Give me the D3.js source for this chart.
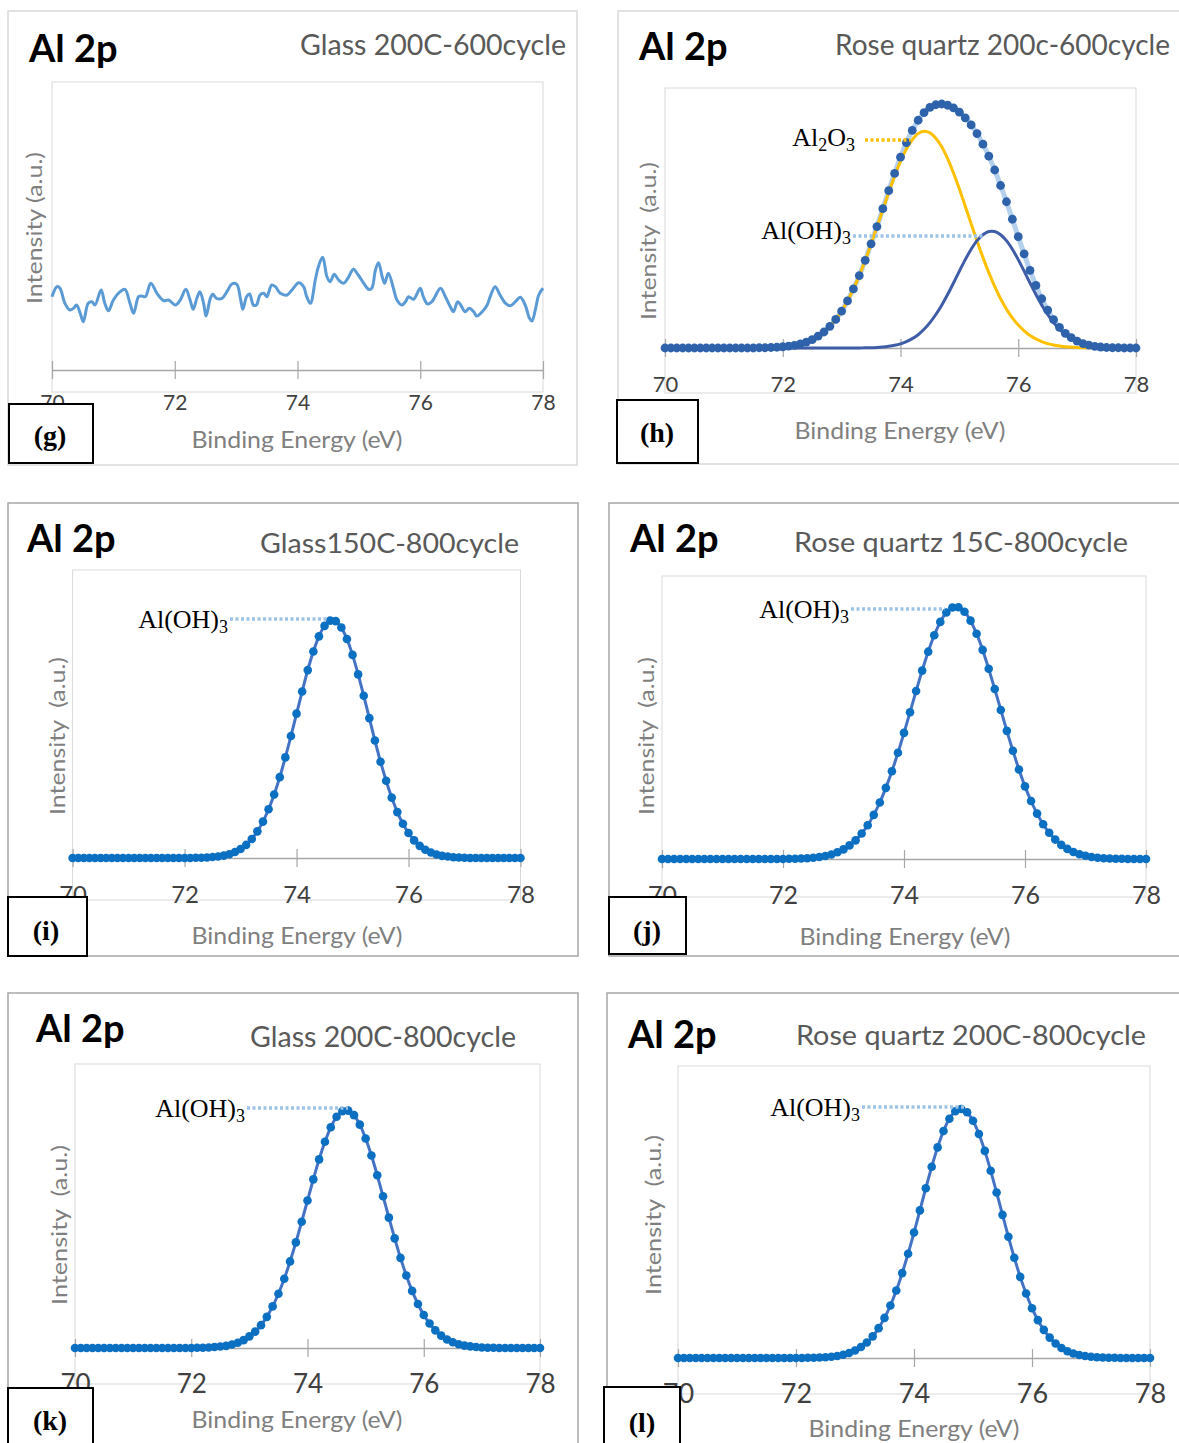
<!DOCTYPE html>
<html>
<head>
<meta charset="utf-8">
<script src="https://cdn.jsdelivr.net/npm/d3@7"></script>
<style>
body { margin: 0; background: #fff; }
svg text { font-family: Lato, "Open Sans", sans-serif; }
svg text.serif { font-family: "Liberation Serif", "Times New Roman", serif; }
</style>
</head>
<body>
<svg id="fig" width="1179" height="1443"></svg>
<script>
// ---- data (binding energy in eV, intensity in a.u.) ----
var tickValues = [70, 72, 74, 76, 78];

var energyGrid = [
	70.0,70.1,70.2,70.3,70.4,70.5,70.6,70.7,70.8,70.9,
	71.0,71.1,71.2,71.3,71.4,71.5,71.6,71.7,71.8,71.9,
	72.0,72.1,72.2,72.3,72.4,72.5,72.6,72.7,72.8,72.9,
	73.0,73.1,73.2,73.3,73.4,73.5,73.6,73.7,73.8,73.9,
	74.0,74.1,74.2,74.3,74.4,74.5,74.6,74.7,74.8,74.9,
	75.0,75.1,75.2,75.3,75.4,75.5,75.6,75.7,75.8,75.9,
	76.0,76.1,76.2,76.3,76.4,76.5,76.6,76.7,76.8,76.9,
	77.0,77.1,77.2,77.3,77.4,77.5,77.6,77.7,77.8,77.9,
	78.0
];

// (g) glass 200C-600cycle : noisy spectrum, no peak
var gEnergy = [
	70.00,70.08,70.13,70.21,70.29,70.35,70.40,70.46,70.51,70.59,
	70.65,70.70,70.80,70.86,70.92,71.00,71.11,71.19,71.27,71.33,
	71.41,71.46,71.52,71.61,71.71,71.82,71.90,72.01,72.09,72.18,
	72.25,72.30,72.36,72.41,72.47,72.51,72.58,72.62,72.68,72.77,
	72.85,72.93,73.01,73.07,73.11,73.17,73.22,73.28,73.33,73.39,
	73.45,73.50,73.58,73.64,73.72,73.83,73.91,74.02,74.10,74.15,
	74.21,74.29,74.34,74.41,74.48,74.53,74.60,74.67,74.75,74.83,
	74.91,74.99,75.08,75.16,75.21,75.27,75.32,75.38,75.42,75.48,
	75.57,75.62,75.70,75.76,75.81,75.89,76.00,76.05,76.12,76.19,
	76.24,76.33,76.41,76.49,76.54,76.61,76.66,76.73,76.80,76.87,
	76.92,77.01,77.09,77.14,77.22,77.30,77.39,77.47,77.55,77.63,
	77.71,77.78,77.82,77.88,77.93,78.00
];
var gIntensity = [
	73.3,83.3,81.7,66.7,60.0,61.7,65.0,56.7,48.3,66.7,
	68.3,65.0,80.0,66.7,59.3,70.0,78.3,80.7,66.7,56.7,
	73.3,74.0,73.3,86.7,76.7,69.3,70.0,65.0,70.0,80.7,
	70.0,60.7,71.7,78.3,66.7,54.0,71.7,75.7,71.7,71.7,
	78.3,86.0,85.7,71.7,60.7,73.3,76.0,65.0,65.0,75.0,
	76.7,73.3,85.0,83.3,76.7,75.0,80.0,87.3,83.3,73.3,
	66.7,90.0,103.3,112.7,93.3,88.3,95.7,90.0,86.7,92.7,
	100.7,95.0,86.7,80.7,81.7,100.0,107.3,93.3,86.7,96.7,
	80.0,70.0,65.0,68.3,73.3,70.7,81.7,73.3,66.0,68.3,
	73.3,81.7,73.3,63.3,58.3,68.3,65.0,58.3,61.7,58.3,
	54.0,58.3,65.0,73.3,83.3,75.0,66.7,64.3,68.3,72.7,
	65.0,51.7,49.0,61.7,75.0,81.7
];

// (h) rose quartz 200c-600cycle : measured envelope + two fitted components
var hEnvelope = [
	0,0,0,0,0,0,0,0,0,0,
	0,0,0,0,0,0,0.1,0.1,0.2,0.3,
	0.5,0.8,1.1,1.7,2.4,3.4,4.8,6.5,8.8,11.6,
	15.0,19.1,24.0,29.4,35.6,42.3,49.3,56.6,63.9,70.9,
	77.5,83.4,88.4,92.5,95.6,97.7,98.8,99.1,98.6,97.5,
	95.8,93.5,90.6,87.1,82.8,77.9,72.3,66.0,59.4,52.3,
	45.2,38.2,31.5,25.4,20.0,15.4,11.5,8.4,5.9,4.2,
	2.8,1.8,1.2,0.7,0.4,0.2,0.1,0.1,0,0,
	0
];
var hAl2O3 = [
	0,0,0,0,0,0,0,0,0,0,
	0,0,0,0,0,0,0.1,0.1,0.2,0.3,
	0.5,0.8,1.1,1.7,2.4,3.4,4.8,6.5,8.8,11.6,
	15.0,19.1,24.0,29.4,35.5,42.2,49.1,56.2,63.2,69.8,
	75.8,80.8,84.6,87.1,88.0,87.4,85.2,81.7,76.9,71.1,
	64.6,57.6,50.5,43.5,36.8,30.6,25.0,20.0,15.8,12.2,
	9.3,7.0,5.1,3.7,2.6,1.8,1.2,0.8,0.5,0.4,
	0.2,0.1,0.1,0,0,0,0,0,0,0,
	0
];
var hAlOH3 = [
	0,0,0,0,0,0,0,0,0,0,
	0,0,0,0,0,0,0,0,0,0,
	0,0,0,0,0,0,0,0,0,0,
	0,0,0,0,0.1,0.1,0.2,0.4,0.7,1.1,
	1.7,2.6,3.8,5.4,7.6,10.3,13.6,17.4,21.7,26.4,
	31.2,35.9,40.1,43.6,46.0,47.3,47.3,46.0,43.6,40.1,
	35.9,31.2,26.4,21.7,17.4,13.6,10.3,7.6,5.4,3.8,
	2.6,1.7,1.1,0.7,0.4,0.2,0.1,0.1,0,0,
	0
];

// (i) glass 150C-800cycle
var iIntensity = [
	0,0,0,0,0,0,0,0,0,0,
	0,0,0,0,0,0,0,0,0,0,
	0,0,0.1,0.1,0.2,0.4,0.6,1.0,1.6,2.5,
	3.8,5.5,8.0,11.2,15.3,20.5,26.7,34.0,42.3,51.3,
	60.7,70.0,79.0,86.8,93.2,97.6,99.8,99.6,96.9,92.1,
	85.4,77.2,68.2,58.8,49.4,40.5,32.5,25.4,19.3,14.4,
	10.5,7.4,5.1,3.5,2.3,1.5,0.9,0.6,0.3,0.2,
	0.1,0,0,0,0,0,0,0,0,0,
	0
];
// (j) rose quartz 15C-800cycle
var jIntensity = [
	0,0,0,0,0,0,0,0,0,0,
	0,0,0,0,0,0,0,0,0,0,
	0,0.1,0.1,0.2,0.3,0.5,0.8,1.2,1.8,2.7,
	3.8,5.4,7.4,10.1,13.4,17.5,22.4,28.2,34.8,42.1,
	50.0,58.2,66.6,74.7,82.2,88.7,94.0,97.7,99.7,99.8,
	98.0,94.5,89.3,82.9,75.4,67.4,59.1,50.8,42.9,35.5,
	28.8,23.0,18.0,13.8,10.4,7.7,5.6,4.0,2.8,1.9,
	1.3,0.8,0.5,0.3,0.2,0.1,0.1,0,0,0,
	0
];
// (k) glass 200C-800cycle
var kIntensity = [
	0,0,0,0,0,0,0,0,0,0,
	0,0,0,0,0,0,0,0,0,0,
	0,0.1,0.1,0.2,0.4,0.6,0.9,1.5,2.2,3.3,
	4.9,6.9,9.6,13.1,17.5,22.8,29.1,36.4,44.4,53.1,
	62.0,70.9,79.3,86.7,92.8,97.2,99.6,99.8,97.9,93.9,
	88.1,80.9,72.6,63.8,54.8,46.1,37.9,30.5,24.0,18.5,
	13.9,10.3,7.4,5.2,3.6,2.4,1.6,1.0,0.7,0.4,
	0.2,0.1,0.1,0,0,0,0,0,0,0,
	0
];
// (l) rose quartz 200C-800cycle
var lIntensity = [
	0,0,0,0,0,0,0,0,0,0,
	0,0,0,0,0,0,0,0,0,0,
	0,0,0.1,0.1,0.2,0.3,0.5,0.8,1.3,2.0,
	3.0,4.4,6.2,8.7,12.0,16.1,21.1,27.1,34.1,41.9,
	50.4,59.3,68.2,76.8,84.6,91.2,96.1,99.1,100.0,98.7,
	95.3,90.0,83.2,75.2,66.5,57.5,48.7,40.3,32.6,25.9,
	20.0,15.2,11.3,8.2,5.8,4.0,2.7,1.8,1.2,0.8,
	0.5,0.3,0.2,0.1,0.1,0,0,0,0,0,
	0
];

// ---- layout of the six panels ----
var ALOH3 = [["Al(OH)",0],["3",1]];
var AL2O3 = [["Al",0],["2",1],["O",0],["3",1]];

var panels = [
	{ key:"g", frame:[8,11,577,465], frameColor:"#d9d9d9", plot:[52,82,543,392], axisY:370, yMax:288,
	  tickY:410, tickSize:21, title:[29,62],
	  sub:{ text:"Glass 200C-600cycle", x:300, y:55, size:28, len:266 },
	  ylab:{ text:"Intensity (a.u.)", x:33, y:228, len:152 }, xlab:[297,448], box:[9,404,93,463], boxText:[50,445],
	  kind:"noise", notes:[] },
	{ key:"h", frame:[618,11,1195,464], frameColor:"#d9d9d9", plot:[665,88,1136,393], axisY:348, yMax:105.6,
	  tickY:392, tickSize:22, title:[639,60],
	  sub:{ text:"Rose quartz 200c-600cycle", x:835, y:55, size:28, len:null },
	  ylab:{ text:"Intensity  (a.u.)", x:647, y:241, len:158 }, xlab:[900,439], box:[617,400,698,463], boxText:[657,442],
	  kind:"fit", envelope:hEnvelope, comps:[{ v:hAl2O3, color:"#ffc000" }, { v:hAlOH3, color:"#3f5ca8" }],
	  notes:[ { parts:AL2O3, endX:855, baseY:146, line:[865,910,140], color:"#ffc000" },
	          { parts:ALOH3, endX:851, baseY:239, line:[853,984,236], color:"#9dc3e6" } ] },
	{ key:"i", frame:[8,503,578,956], frameColor:"#a6a6a6", plot:[72.6,570,520.5,900], axisY:858, yMax:121.1,
	  tickY:903, tickSize:24, title:[27,552],
	  sub:{ text:"Glass150C-800cycle", x:260, y:553, size:26, len:259 },
	  ylab:{ text:"Intensity  (a.u.)", x:56, y:736, len:158 }, xlab:[297,944], box:[8,897,87,956], boxText:[46,940],
	  kind:"peak", values:iIntensity,
	  notes:[ { parts:ALOH3, endX:228, baseY:628, line:[230,327,619], color:"#9dc3e6" } ] },
	{ key:"j", frame:[609,503,1195,956], frameColor:"#a6a6a6", plot:[662,576,1146,897], axisY:859, yMax:112.2,
	  tickY:904, tickSize:25, title:[630,552],
	  sub:{ text:"Rose quartz 15C-800cycle", x:794, y:552, size:26, len:334 },
	  ylab:{ text:"Intensity  (a.u.)", x:645, y:736, len:158 }, xlab:[905,945], box:[609,897,686,954], boxText:[647,940],
	  kind:"peak", values:jIntensity,
	  notes:[ { parts:ALOH3, endX:849, baseY:618, line:[851,945,609], color:"#9dc3e6" } ] },
	{ key:"k", frame:[8,993,578,1460], frameColor:"#a6a6a6", plot:[75,1064,540,1384], axisY:1348, yMax:119.4,
	  tickY:1393, tickSize:26, title:[36,1042],
	  sub:{ text:"Glass 200C-800cycle", x:250, y:1047, size:28, len:266 },
	  ylab:{ text:"Intensity  (a.u.)", x:58, y:1225, len:160 }, xlab:[297,1428], box:[8,1388,93,1460], boxText:[50,1430],
	  kind:"peak", values:kIntensity,
	  notes:[ { parts:ALOH3, endX:245, baseY:1117, line:[247,348,1108], color:"#9dc3e6" } ] },
	{ key:"l", frame:[607,993,1195,1460], frameColor:"#a6a6a6", plot:[678,1066,1150,1394], axisY:1358, yMax:117.3,
	  tickY:1403, tickSize:27, title:[628,1048],
	  sub:{ text:"Rose quartz 200C-800cycle", x:796, y:1045, size:27, len:350 },
	  ylab:{ text:"Intensity  (a.u.)", x:652, y:1215, len:160 }, xlab:[914,1437], box:[604,1387,680,1460], boxText:[642,1432],
	  kind:"peak", values:lIntensity,
	  notes:[ { parts:ALOH3, endX:860, baseY:1116, line:[862,964,1107], color:"#9dc3e6" } ] }
];

var svg = d3.select("#fig");

panels.forEach(function(p){
	var g = svg.append("g").attr("id", "panel_" + p.key);

	// outer chart frame
	g.append("rect")
		.attr("x", p.frame[0]).attr("y", p.frame[1])
		.attr("width", p.frame[2] - p.frame[0]).attr("height", p.frame[3] - p.frame[1])
		.attr("fill", "#fff").attr("stroke", p.frameColor).attr("stroke-width", 1.5);

	// plot area border
	g.append("rect")
		.attr("x", p.plot[0]).attr("y", p.plot[1])
		.attr("width", p.plot[2] - p.plot[0]).attr("height", p.plot[3] - p.plot[1])
		.attr("fill", "none").attr("stroke", "#d9d9d9").attr("stroke-width", 1);

	var x = d3.scaleLinear().domain([70, 78]).range([p.plot[0], p.plot[2]]);
	var y = d3.scaleLinear().domain([0, p.yMax]).range([p.axisY, p.plot[1]]);

	// x axis with cross ticks
	var ax = g.append("g")
		.attr("transform", "translate(0," + p.axisY + ")")
		.call(d3.axisBottom(x).tickValues(tickValues).tickSizeOuter(0).tickFormat(d3.format("d")));
	ax.select(".domain").attr("stroke", "#a6a6a6").attr("stroke-width", 1.5);
	ax.selectAll(".tick line").attr("y1", -9).attr("y2", 9).attr("stroke", "#a6a6a6").attr("stroke-width", 1.2);
	ax.selectAll(".tick text")
		.attr("y", p.tickY - p.axisY).attr("dy", 0)
		.attr("font-size", p.tickSize)
		.attr("fill", "#404040");

	var line = d3.line()
		.x(function(d){ return x(d[0]); })
		.y(function(d){ return y(d[1]); })
		.curve(d3.curveCatmullRom.alpha(0.5));

	if (p.kind === "noise") {
		g.append("path")
			.datum(d3.zip(gEnergy, gIntensity))
			.attr("d", line)
			.attr("fill", "none").attr("stroke", "#5b9bd5").attr("stroke-width", 3)
			.attr("stroke-linejoin", "round");
	}

	if (p.kind === "fit") {
		var env = d3.zip(energyGrid, p.envelope);
		g.append("path").datum(env).attr("d", line)
			.attr("fill", "none").attr("stroke", "#b4d0ec").attr("stroke-width", 5);
		p.comps.forEach(function(c){
			g.append("path").datum(d3.zip(energyGrid, c.v)).attr("d", line)
				.attr("fill", "none").attr("stroke", c.color).attr("stroke-width", 3);
		});
		g.append("g").selectAll("circle").data(env).enter().append("circle")
			.attr("cx", function(d){ return x(d[0]); })
			.attr("cy", function(d){ return y(d[1]); })
			.attr("r", 4.4).attr("fill", "#2e62ab");
	}

	if (p.kind === "peak") {
		var pts = d3.zip(energyGrid, p.values);
		g.append("path").datum(pts).attr("d", line)
			.attr("fill", "none").attr("stroke", "#4472c4").attr("stroke-width", 3);
		g.append("g").selectAll("circle").data(pts).enter().append("circle")
			.attr("cx", function(d){ return x(d[0]); })
			.attr("cy", function(d){ return y(d[1]); })
			.attr("r", 4.3).attr("fill", "#0b6fc2");
	}

	// peak annotations
	p.notes.forEach(function(n){
		g.append("line")
			.attr("x1", n.line[0]).attr("x2", n.line[1]).attr("y1", n.line[2]).attr("y2", n.line[2])
			.attr("stroke", n.color).attr("stroke-width", 3.5).attr("stroke-dasharray", "3,2.5");
		var t = g.append("text").classed("serif", true)
			.attr("x", n.endX).attr("y", n.baseY).attr("text-anchor", "end")
			.attr("font-size", 26).attr("fill", "#000");
		var shift = 0;
		n.parts.forEach(function(part){
			var target = part[1] ? 5 : 0;
			var ts = t.append("tspan").text(part[0]).attr("dy", target - shift);
			if (part[1]) ts.attr("font-size", 18);
			shift = target;
		});
	});

	// titles
	g.append("text").attr("x", p.title[0]).attr("y", p.title[1])
		.attr("font-size", 38).attr("font-weight", 700).attr("fill", "#000").text("Al 2p");
	var sub = g.append("text").attr("x", p.sub.x).attr("y", p.sub.y)
		.attr("font-size", p.sub.size).attr("fill", "#595959").text(p.sub.text);
	if (p.sub.len) sub.attr("textLength", p.sub.len).attr("lengthAdjust", "spacingAndGlyphs");

	g.append("text")
		.attr("transform", "translate(" + p.ylab.x + "," + p.ylab.y + ") rotate(-90)")
		.attr("text-anchor", "middle").attr("dominant-baseline", "central")
		.attr("font-size", 22).attr("fill", "#7f7f7f")
		.style("white-space", "pre")
		.attr("textLength", p.ylab.len).attr("lengthAdjust", "spacingAndGlyphs")
		.text(p.ylab.text);

	g.append("text").attr("x", p.xlab[0]).attr("y", p.xlab[1])
		.attr("text-anchor", "middle").attr("font-size", 24).attr("fill", "#7f7f7f")
		.attr("textLength", 211).attr("lengthAdjust", "spacingAndGlyphs")
		.text("Binding Energy (eV)");

	// sub-figure label box
	g.append("rect")
		.attr("x", p.box[0]).attr("y", p.box[1])
		.attr("width", p.box[2] - p.box[0]).attr("height", p.box[3] - p.box[1])
		.attr("fill", "#fff").attr("stroke", "#000").attr("stroke-width", 2);
	g.append("text").classed("serif", true)
		.attr("x", p.boxText[0]).attr("y", p.boxText[1])
		.attr("text-anchor", "middle")
		.attr("font-size", 28).attr("font-weight", 700).attr("fill", "#000")
		.text("(" + p.key + ")");
});
</script>
</body>
</html>
